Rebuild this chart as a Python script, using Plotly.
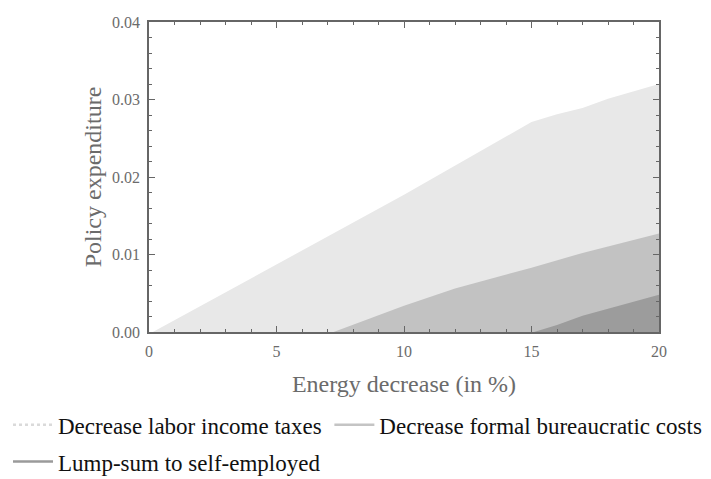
import plotly.graph_objects as go

# Energy decrease (%) and policy expenditure for each instrument
labor_x = [0.15, 5, 10, 15, 16, 17, 18, 20]
labor_y = [0.0, 0.0087, 0.0177, 0.0271, 0.0281, 0.0289, 0.0301, 0.0320]

bureau_x = [7.24, 10, 12, 15, 17, 20]
bureau_y = [0.0, 0.0034, 0.0056, 0.0083, 0.0102, 0.0127]

lump_x = [15.1, 16, 17, 18, 19, 20]
lump_y = [0.0, 0.0009, 0.0021, 0.0030, 0.0039, 0.0048]

names = [
    "Decrease labor income taxes",
    "Decrease formal bureaucratic costs",
    "Lump-sum to self-employed",
]
fills = ["#e8e8e8", "#c2c2c2", "#9c9c9c"]
legend_cols = ["#dadada", "#c4c4c4", "#9a9a9a"]
legend_ids = ["legend", "legend2", "legend3"]

SERIF = "Liberation Serif, Times New Roman, serif"

fig = go.Figure()

for xs, ys, col in zip([labor_x, bureau_x, lump_x], [labor_y, bureau_y, lump_y], fills):
    fig.add_trace(go.Scatter(
        x=xs, y=ys, mode="lines", fill="tozeroy",
        fillcolor=col, line=dict(width=0, color=col),
        showlegend=False, hoverinfo="skip",
    ))

# legend entries drawn as lines
for i, (name, col, lg) in enumerate(zip(names, legend_cols, legend_ids)):
    fig.add_trace(go.Scatter(
        x=[None], y=[None], mode="lines", name=name, legend=lg,
        line=dict(color=col, width=2.5, dash="dot" if i == 0 else "solid"),
    ))

axis_common = dict(
    showgrid=False, zeroline=False, showline=True, linecolor="#666666",
    linewidth=1.5, mirror="ticks", ticks="inside", tickcolor="#666666",
    ticklen=6, tickwidth=1.2, automargin=False, ticklabelstandoff=4,
    tickfont=dict(family=SERIF, size=16, color="#6b6b6b"),
)

fig.update_xaxes(
    range=[0, 20], tickvals=[0, 5, 10, 15, 20],
    minor=dict(dtick=1, ticks="inside", ticklen=3, tickcolor="#666666"),
    title=dict(text="Energy decrease (in %)", font=dict(family=SERIF, size=24, color="#6b6b6b"),
               standoff=16),
    **axis_common,
)
fig.update_yaxes(
    range=[0, 0.04], tickvals=[0, 0.01, 0.02, 0.03, 0.04], tickformat=".2f",
    minor=dict(dtick=0.002, ticks="inside", ticklen=3, tickcolor="#666666"),
    title=dict(text="Policy expenditure", font=dict(family=SERIF, size=24, color="#6b6b6b"),
               standoff=4),
    **axis_common,
)

legend_font = dict(family=SERIF, size=23, color="#111111")
legend_common = dict(
    orientation="h", xref="container", yref="container",
    xanchor="left", yanchor="middle", font=legend_font, itemwidth=40,
)
fig.update_layout(
    width=711, height=479,
    margin=dict(l=141, r=60, t=14, b=155),
    plot_bgcolor="white", paper_bgcolor="white",
    legend=dict(x=0.0, y=0.13, **legend_common),
    legend2=dict(x=0.452, y=0.13, **legend_common),
    legend3=dict(x=0.0, y=0.053, **legend_common),
)

fig.write_html("out.html")
